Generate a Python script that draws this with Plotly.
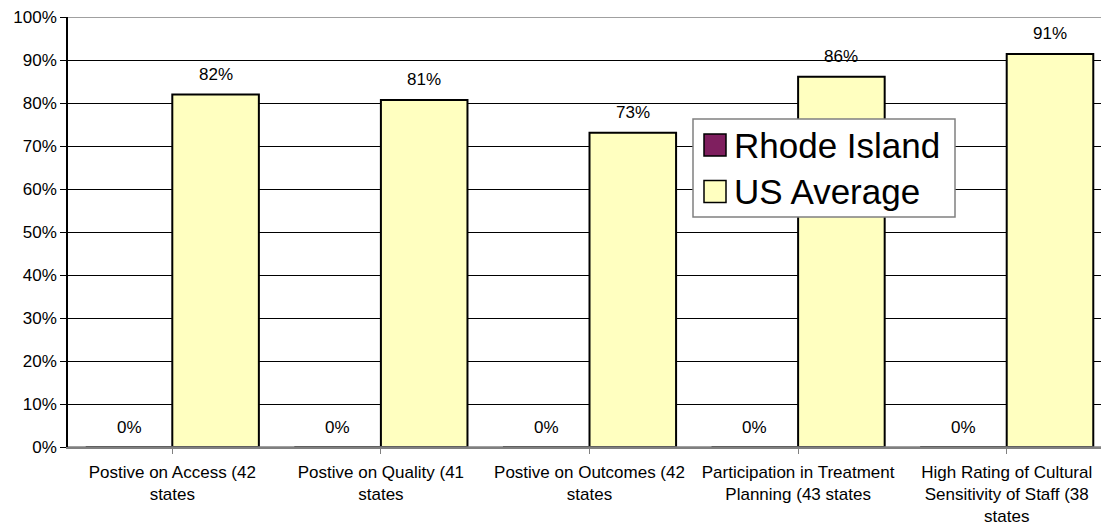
import plotly.graph_objects as go

categories = [
    "Postive on Access (42<br>states",
    "Postive on Quality (41<br>states",
    "Postive on Outcomes (42<br>states",
    "Participation in Treatment<br>Planning (43 states",
    "High Rating of Cultural<br>Sensitivity of Staff (38<br>states",
]
rhode_island = [0, 0, 0, 0, 0]
us_average = [82.0, 80.7, 73.1, 86.1, 91.4]
series_names = ["Rhode Island", "US Average"]
series_colors = ["#7F1F5F", "#FFFFC0"]
y_ticks = list(range(0, 101, 10))
y_tick_labels = [f"{v}%" for v in y_ticks]

W, H = 1101, 529
ML, MR, MT, MB = 68, 0, 17, 82
PW, PH = W - ML - MR, H - MT - MB

def px_x(p):
    return (p - ML) / PW

def px_y(p):
    return (H - MB - p) / PH

FONT = "Liberation Sans, Arial, sans-serif"
FS = 17

fig = go.Figure()
idx = list(range(len(categories)))
for name, vals, col in zip(series_names, [rhode_island, us_average], series_colors):
    fig.add_trace(go.Bar(
        x=idx, y=vals, name=name,
        marker=dict(color=col, line=dict(color="#000000", width=2)),
        showlegend=False,
    ))

annotations = []
half = 0.2075
for offset, vals in [(-half, rhode_island), (half, us_average)]:
    for i, v in enumerate(vals):
        annotations.append(dict(
            x=i + offset, y=v, xref="x", yref="y",
            text=f"{round(v)}%", showarrow=False,
            yanchor="middle", xanchor="center", yshift=20,
            font=dict(family=FONT, size=FS, color="#000000"),
        ))

# legend (manual, larger swatches)
lx0, lx1, ly0, ly1 = 693, 955, 119, 217
shapes = [
    dict(type="line", xref="paper", yref="y", x0=0, x1=1, y0=100, y1=100,
         line=dict(color="#808080", width=1.5), layer="above"),
    dict(type="line", xref="paper", yref="y", x0=0, x1=1, y0=0, y1=0,
         line=dict(color="#808080", width=1.5), layer="above"),
    dict(type="rect", xref="paper", yref="paper",
         x0=px_x(lx0), x1=px_x(lx1), y0=px_y(ly1), y1=px_y(ly0),
         line=dict(color="#808080", width=1.5), fillcolor="#FFFFFF", layer="above"),
]
row_centers = [145, 191.5]
for name, col, cy in zip(series_names, series_colors, row_centers):
    shapes.append(dict(
        type="rect", xref="paper", yref="paper",
        x0=px_x(704), x1=px_x(726), y0=px_y(cy + 11), y1=px_y(cy - 11),
        line=dict(color="#000000", width=1.5), fillcolor=col, layer="above",
    ))
    annotations.append(dict(
        x=px_x(732), y=px_y(cy), xref="paper", yref="paper",
        text=name, showarrow=False, xanchor="left", yanchor="middle",
        font=dict(family=FONT, size=35, color="#000000"),
    ))

fig.update_layout(
    width=W, height=H,
    margin=dict(l=ML, r=MR, t=MT, b=MB, pad=0),
    paper_bgcolor="#FFFFFF", plot_bgcolor="#FFFFFF",
    barmode="group", bargap=0.17, bargroupgap=0,
    showlegend=False,
    annotations=annotations, shapes=shapes,
    font=dict(family=FONT, size=FS, color="#000000"),
)
fig.update_xaxes(
    range=[-0.5, 4.452], tickmode="array", tickvals=idx, ticktext=categories,
    tickson="boundaries", ticks="outside", ticklen=5, tickcolor="#808080",
    showline=True, linecolor="#808080", linewidth=1.5,
    showgrid=False, zeroline=False, tickangle=0, ticklabelstandoff=4,
    tickfont=dict(family=FONT, size=FS, color="#000000"),
)
fig.update_yaxes(
    range=[0, 100], tickmode="array", tickvals=y_ticks, ticktext=y_tick_labels,
    ticks="outside", ticklen=6, tickcolor="#000000",
    showline=True, linecolor="#000000", linewidth=1.5,
    showgrid=True, gridcolor="#000000", gridwidth=1, zeroline=False,
    tickfont=dict(family=FONT, size=FS, color="#000000"),
)

fig.write_html(
    "out.html",
    config={"displayModeBar": False},
    post_script="document.body.style.margin='0';document.body.style.overflow='hidden';",
)
